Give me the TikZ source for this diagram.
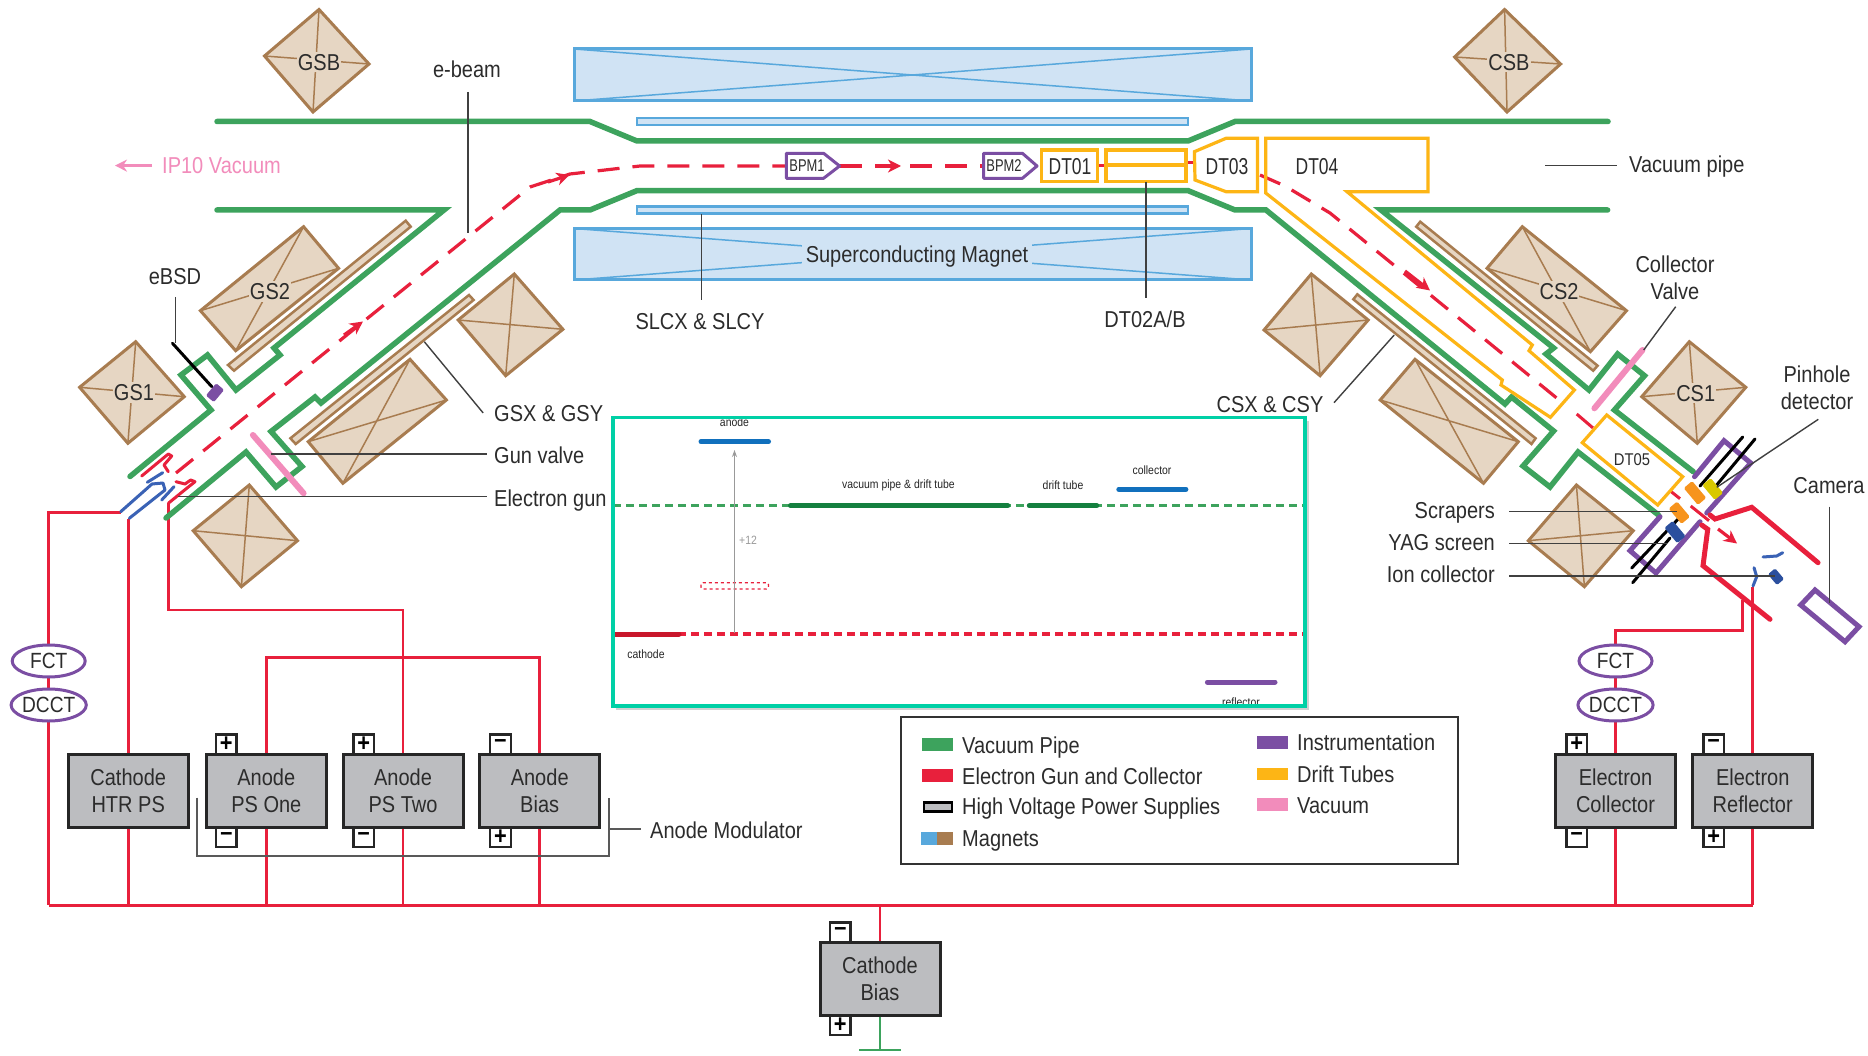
\documentclass[tikz,border=0pt]{standalone}
\usepackage{fontspec}
\setmainfont[FakeStretch=0.87]{Liberation Sans}
\newfontfamily\nf[FakeStretch=0.76]{Liberation Sans}
\usetikzlibrary{arrows.meta,shapes.geometric}
\pgfdeclarelayer{wires}
\pgfsetlayers{wires,main}
\definecolor{pipeg}{HTML}{3DA35D}
\definecolor{redc}{HTML}{E8203C}
\definecolor{purp}{HTML}{7B4EA3}
\definecolor{yel}{HTML}{FDB515}
\definecolor{pinkv}{HTML}{F28CBB}
\definecolor{tanf}{HTML}{E6D6C3}
\definecolor{tanl}{HTML}{A87C50}
\definecolor{bluef}{HTML}{D0E3F4}
\definecolor{bluel}{HTML}{58A8DC}
\definecolor{boxg}{HTML}{BCBDC0}
\definecolor{txt}{HTML}{2C2C2C}
\definecolor{teal1}{HTML}{00D0A6}
\definecolor{gunb}{HTML}{3A62B5}
\definecolor{dgreen}{HTML}{14803F}
\definecolor{iblue}{HTML}{1170BD}
\definecolor{scrap}{HTML}{F7941D}
\definecolor{pinh}{HTML}{D9C800}
\definecolor{yagb}{HTML}{2B4F9E}
\definecolor{cathr}{HTML}{C8162B}
\tikzset{
 pipe/.style={draw=pipeg,line width=5.5pt,line join=miter,line cap=round},
 drift/.style={draw=yel,line width=3.2pt,line join=miter},
 instr/.style={draw=purp,line width=5pt,line join=miter,line cap=round},
 bpmbox/.style={draw=purp,line width=3pt,fill=white,line join=round},
 wire/.style={draw=redc,line width=2.8pt,line join=miter},
 heavy/.style={draw=redc,line width=5pt,line join=miter,line cap=round},
 beam/.style={draw=redc,line width=3.2pt,dash pattern=on 22pt off 13pt},
 tip/.style={draw=redc,line width=3.2pt,-{Stealth[length=13pt,width=13pt,inset=4pt]}},
 mag/.style={draw=tanl,line width=3pt,fill=tanf,line join=miter},
 diag/.style={draw=tanl,line width=1.5pt},
 sol/.style={draw=bluel,line width=3pt,fill=bluef,line join=miter},
 soldiag/.style={draw=bluel,line width=1.5pt},
 lead/.style={draw=black!75,line width=1.4pt},
 rod/.style={draw=black,line width=3pt,line cap=round},
 valve/.style={draw=pinkv,line width=6pt,line cap=round},
 gunpart/.style={draw=gunb,line width=3pt,line join=round,line cap=round},
 gunred/.style={draw=redc,line width=3pt,line join=round,line cap=round},
 lbl/.style={font=\fontsize{23}{27}\selectfont,text=txt,inner sep=0pt,text height=16.5pt,text depth=0pt},
 lblml/.style={font=\fontsize{23}{27}\selectfont,text=txt,inner sep=0pt,align=center},
 maglbl/.style={lbl,fill=tanf,inner xsep=1pt,inner ysep=2pt},
 dtlbl/.style={font=\nf\fontsize{23}{27}\selectfont,text=txt,inner sep=0pt,text height=16.5pt,text depth=0pt},
 dtsmall/.style={font=\fontsize{17}{20}\selectfont,text=txt,inner sep=0pt,text height=12pt,text depth=0pt},
 bpmlbl/.style={font=\nf\fontsize{17}{20}\selectfont,text=txt,inner sep=0pt,text height=12pt,text depth=0pt},
 hvbox/.style={draw=black!85,line width=3pt,fill=boxg,minimum width=120pt,minimum height=73pt,inner sep=0pt,align=center,font=\fontsize{23}{27}\selectfont,text=txt},
 tabbox/.style={draw=black!85,line width=2.2pt,fill=white,minimum width=20.5pt,minimum height=19.5pt,inner sep=0pt,font=\bfseries\fontsize{25}{25}\selectfont},
 meter/.style={ellipse,draw=purp,line width=3pt,fill=white,minimum width=73pt,minimum height=32pt,inner sep=0pt,font=\fontsize{22}{26}\selectfont,text=txt},
 tiny/.style={font=\fontsize{12}{14}\selectfont,text=black!85,inner sep=0pt},
 bar/.style={line width=5pt,line cap=round},
 legendtxt/.style={lbl,anchor=west},
 swatch/.style={minimum width=31pt,minimum height=12.5pt,inner sep=0pt,anchor=west},
 bracket/.style={draw=black!65,line width=1.6pt},
}
\newcommand{\magq}[4]{\draw[mag] #1 -- #2 -- #3 -- #4 -- cycle; \draw[diag] #1 -- #3 #2 -- #4;}
\begin{document}
\begin{tikzpicture}[x=1pt,y=-1pt]
\useasboundingbox (0,0) rectangle (1868,1056);
\begin{pgfonlayer}{wires}
\fill[white] (0,0) rectangle (1868,1056);
\end{pgfonlayer}
% solenoid
\draw[sol] (574,49) rectangle (1251,101);
\draw[soldiag] (574,49) -- (1251,101) (574,101) -- (1251,49);
\draw[sol] (574,228.5) rectangle (1251,280);
\draw[soldiag] (574,228.5) -- (1251,280) (574,280) -- (1251,228.5);
\node[lbl,fill=bluef,inner xsep=4pt,inner ysep=3pt] (scmag) at (917,254) {Superconducting Magnet};
\draw[sol,line width=2.5pt] (637,118) rectangle (1188,125);
\draw[sol,line width=2.5pt] (637,206.5) rectangle (1188,213.5);
% pipes
\draw[pipe] (217,121.5) -- (590,121.5) -- (637,141) -- (1188,141) -- (1235,121.5) -- (1608,121.5);
\draw[pipe] (217,210) -- (444,210) -- (274,348) -- (280,355) -- (236,390) -- (207.5,355) -- (181,375) -- (211,410) -- (130,476.5);
\draw[pipe] (1607.6,210) -- (1381,210) -- (1553.6,348) -- (1546,354) -- (1589,390) -- (1617.6,354) -- (1644.5,375.7) -- (1614.4,410) -- (1693.3,471.7);
\draw[pipe] (166,518) -- (246,452) -- (276,487) -- (302,466.5) -- (271,431.5) -- (315,397) -- (321,403) -- (560,210) -- (590,210) -- (637,190.6) -- (1188,190.6) -- (1235,210) -- (1266,210) -- (1505,404) -- (1511.5,397) -- (1553.6,431) -- (1523,466) -- (1550,487) -- (1578,452) -- (1658.5,515);
% magnets
\magq{(319,9.5)}{(369,64)}{(313,112)}{(264.5,56)}
\magq{(1504.6,9.5)}{(1560.6,64)}{(1507,112)}{(1454.6,57)}
\magq{(303.6,226.7)}{(338.6,268.3)}{(235.7,350.7)}{(200.4,310.7)}
\magq{(135.7,341.7)}{(184.3,396.7)}{(127.9,443.3)}{(79.6,387.3)}
\magq{(514.3,274)}{(562.9,329.3)}{(505.7,375.7)}{(458.2,320)}
\magq{(410,359.3)}{(446.4,400)}{(342.9,483.3)}{(308.2,441.7)}
\magq{(249.3,485)}{(297.5,540.7)}{(241.4,586.7)}{(193.2,530.7)}
\magq{(1522.3,226.7)}{(1626.5,310.7)}{(1590.4,351.7)}{(1487,268.3)}
\magq{(1689.3,341.7)}{(1745.8,387.3)}{(1697.3,443.3)}{(1641.7,396.7)}
\magq{(1311.3,274)}{(1368.2,320)}{(1320.1,375.7)}{(1264,330)}
\magq{(1415,359.3)}{(1518.3,441.7)}{(1483.5,483.3)}{(1380.2,400)}
\magq{(1576.4,485)}{(1633.3,530.7)}{(1584.4,586.7)}{(1528.3,540.7)}
\draw[mag,line width=2.5pt] (405.7,220.7) -- (410.7,226.7) -- (234,370.7) -- (228,365) -- cycle;
\draw[mag,line width=2.5pt] (469,295) -- (473.6,300) -- (295.7,444) -- (290.4,438.3) -- cycle;
\draw[mag,line width=2.5pt] (1420.2,221.7) -- (1597.6,365.7) -- (1593.2,370.7) -- (1416.2,226.7) -- cycle;
\draw[mag,line width=2.5pt] (1357.3,294.3) -- (1535.6,438.3) -- (1531.5,444) -- (1353.3,299.3) -- cycle;
\node[maglbl] (gsb) at (319,62) {GSB};
\node[maglbl] (csb) at (1509,62) {CSB};
\node[maglbl] (gs2) at (270,291.7) {GS2};
\node[maglbl] (gs1) at (134,392.7) {GS1};
\node[maglbl] (cs2) at (1559,291.7) {CS2};
\node[maglbl] (cs1) at (1695.7,393) {CS1};
% beam
\draw[beam] (176,473) -- (530,187) -- (570,174) -- (640,166) -- (790,166);
\draw[beam] (840,166) -- (990,166);
\draw[beam] (1260,175) -- (1285,186) -- (1330,213) -- (1564,404);
\draw[redc,line width=3pt] (1576.7,414) -- (1593,428);
\draw[redc,line width=3pt] (1671,491.5) -- (1680,498.7);
\draw[redc,line width=3pt] (1690.7,506) -- (1709,520.7);
\draw[tip] (344,335) -- (363,321.5);
\draw[tip] (548,182) -- (569.5,175);
\draw[tip] (877,166) -- (901,166);
\draw[tip] (1405,271) -- (1430,290.5);
\draw[tip] (1718,529) -- (1737,543.5);
\draw[redc,line width=3pt] (1097.5,166) -- (1106,166);
\draw[redc,line width=3pt] (1186,163) -- (1195,163);
% drift tubes
\draw[drift] (1265.7,138.3) -- (1428,138.3) -- (1428,191.7) -- (1347,191.7) -- (1532.3,345) -- (1529,350.7) -- (1574.4,390) -- (1550.4,417.3) -- (1501,385) -- (1502.3,380) -- (1265.7,193) -- cycle;
\draw[drift] (1194.4,151.7) -- (1226,138.3) -- (1257.4,138.3) -- (1257.4,191.7) -- (1226,191.7) -- (1195,180) -- cycle;
\draw[drift] (1106,150) rectangle (1186,181.7);
\draw[drift] (1106,165) -- (1186,165);
\draw[drift] (1041.7,150) rectangle (1097.5,181.7);
\draw[drift] (1606.7,415) -- (1682.7,476.7) -- (1657.7,505) -- (1582.3,442.7) -- cycle;
\node[dtlbl] (dt01) at (1070,166) {DT01};
\node[dtlbl] (dt03) at (1227,166) {DT03};
\node[dtlbl] (dt04) at (1317,166) {DT04};
\node[dtsmall] (dt05) at (1632,459) {DT05};
% bpm
\draw[bpmbox] (786.3,153.3) -- (823.6,153.3) -- (839.6,166) -- (823.6,178.3) -- (786.3,178.3) -- cycle;
\draw[bpmbox] (983.6,153.3) -- (1022.4,153.3) -- (1037,166) -- (1022.4,178.3) -- (983.6,178.3) -- cycle;
\node[bpmlbl] (bpm1) at (807,166) {BPM1};
\node[bpmlbl] (bpm2) at (1004,166) {BPM2};
% valves
\draw[valve] (252.9,435) -- (303.6,493.3);
\draw[valve] (1642.5,350) -- (1594.4,408.3);
% instrumentation
\draw[instr] (1694.5,476.7) -- (1724,440.7) -- (1750.7,463) -- (1706.7,513);
\draw[instr] (1660,516.7) -- (1630,550.7) -- (1656,573) -- (1700,521.7);
\draw[instr] (1815,590) -- (1859,626.7) -- (1845,641.7) -- (1800.7,605) -- cycle;
\draw[rod] (1700,486) -- (1742.7,437);
\draw[rod] (1715,487) -- (1755,439);
\draw[rod] (1682,515) -- (1631.7,568);
\draw[rod] (1670,538) -- (1632.7,582.7);
\draw[rod] (172.5,343.3) -- (211.8,386.7);
\fill[purp,rotate around={50:(215,392.7)},rounded corners=1.5pt] (207,387.5) rectangle (223,397.9);
\fill[scrap,rotate around={-50:(1695,493)},rounded corners=1.5pt] (1684,487.5) rectangle (1706,498.5);
\fill[scrap,rotate around={-50:(1679.3,512.7)},rounded corners=1.5pt] (1669.3,507.2) rectangle (1689.3,518.2);
\fill[pinh,rotate around={-50:(1712.7,489)},rounded corners=1.5pt] (1703,483.5) rectangle (1722.4,494.5);
\fill[yagb,rotate around={-50:(1675,532)},rounded corners=1.5pt] (1665,526.5) rectangle (1685,537.5);
\fill[yagb,rotate around={-50:(1776,576.7)},rounded corners=1.5pt] (1769,572) rectangle (1783,581.4);
\draw[gunpart] (1763,557) -- (1776.7,556) -- (1782.7,552.7);
\draw[gunpart] (1754,567.7) -- (1756.7,576.7) -- (1753,586);
% collector
\draw[heavy] (1710,515) -- (1715,519) -- (1751.7,507.3) -- (1818,562.7);
\draw[heavy] (1701.7,525) -- (1707.7,529.3) -- (1703,565.7) -- (1770,619.3);
% gun
\draw[gunred] (141.7,476) -- (168.3,454) -- (171.7,456) -- (164,465) -- (168.3,471.7);
\draw[gunred] (176,481.7) -- (185,484) -- (190.7,480) -- (195,481.7) -- (186.7,488.3) -- (168.3,503.3);
\draw[gunpart] (147.3,482.3) -- (162.7,472.7);
\draw[gunpart] (120.7,511.7) -- (152,484) -- (163,483) -- (165,490) -- (129.3,518.3);
\draw[gunpart] (161.7,500) -- (174,486.7);
% power supplies
\coordinate (busL) at (48.7,905.3);
\coordinate (busR) at (1752.7,905.3);
\coordinate (gunHa) at (120.7,512.7);
\coordinate (gunHb) at (128.2,519);
\coordinate (gunAn) at (168.3,503.3);
\coordinate (colT) at (1742.7,600);
\coordinate (refT) at (1752.7,586.7);
\node[hvbox] (htr) at (128.2,790.6) {Cathode\\HTR PS};
\node[hvbox] (aone) at (266.3,790.6) {Anode\\PS One};
\node[hvbox] (atwo) at (403,790.6) {Anode\\PS Two};
\node[hvbox] (abias) at (539.7,790.6) {Anode\\Bias};
\node[hvbox] (ecol) at (1615.5,790.6) {Electron\\Collector};
\node[hvbox] (eref) at (1752.7,790.6) {Electron\\Reflector};
\node[hvbox] (cbias) at (880,978.6) {Cathode\\Bias};
\begin{pgfonlayer}{wires}
\draw[wire] (busL) -- (busR);
\draw[wire] (gunHa) -- (busL |- gunHa) -- (busL);
\draw[wire] (gunHb) -- (htr.north);
\draw[wire] (gunAn) -- (gunAn |- 0,610) -- (atwo.north |- 0,610) -- (atwo.north);
\draw[wire] (aone.north) -- (aone.north |- 0,657.6) -- (abias.north |- 0,657.6) -- (abias.north);
\draw[wire] (htr.south) -- (htr.south |- busL);
\draw[wire] (aone.south) -- (aone.south |- busL);
\draw[wire] (atwo.south) -- (atwo.south |- busL);
\draw[wire] (abias.south) -- (abias.south |- busL);
\draw[wire] (ecol.south) -- (ecol.south |- busL);
\draw[wire] (eref.south) -- (busR);
\draw[wire] (refT) -- (eref.north);
\draw[wire] (colT) -- (colT |- 0,630.7) -- (ecol.north |- 0,630.7) -- (ecol.north);
\draw[wire] (busL -| cbias.north) -- (cbias.north);
\node[tabbox] (t1) at (226.3,744.2) {+};
\node[tabbox] (t2) at (363.7,744.2) {+};
\node[tabbox] (t3) at (500.5,744.2) {\raisebox{1pt}{–}};
\node[tabbox] (t4) at (226.3,837) {\raisebox{1pt}{–}};
\node[tabbox] (t5) at (363.7,837) {\raisebox{1pt}{–}};
\node[tabbox] (t6) at (500.5,837) {+};
\node[tabbox] (t7) at (1576.7,744.2) {+};
\node[tabbox] (t8) at (1713.7,744.2) {\raisebox{1pt}{–}};
\node[tabbox] (t9) at (1576.7,837) {\raisebox{1pt}{–}};
\node[tabbox] (t10) at (1713.7,837) {+};
\node[tabbox] (t11) at (840.3,932.3) {\raisebox{1pt}{–}};
\node[tabbox] (t12) at (840.3,1025) {+};
\end{pgfonlayer}
\node[meter] (fctl) at (48.7,661) {FCT};
\node[meter] (dcctl) at (48.7,705) {DCCT};
\node[meter] (fctr) at (1615.5,661) {FCT};
\node[meter] (dcctr) at (1615.5,705) {DCCT};
\coordinate (gnd) at (880,1050);
\coordinate (gndL) at (859,1050);
\coordinate (gndR) at (901,1050);
\draw[pipeg,line width=2.8pt] (cbias.south) -- (gnd);
\draw[pipeg,line width=2.8pt] (gndL) -- (gndR);
% leaders + labels
\node[lbl] (lbeam) at (467,69) {e-beam};
\draw[lead] (468,92) -- (468,233);
\node[lbl,text=pinkv,anchor=west] (ip10) at (162,165.6) {IP10 Vacuum};
\draw[pinkv,line width=3.5pt,-{Stealth[length=12pt,width=12pt]}] (152,165.6) -- (115,165.6);
\node[lbl] (lebsd) at (175,276) {eBSD};
\draw[lead] (175.4,297) -- (175.4,343);
\node[lbl,anchor=west] (lgsx) at (494,413) {GSX \& GSY};
\draw[lead] (424.3,341.7) -- (483.2,413);
\node[lbl,anchor=west] (lgv) at (494,455) {Gun valve};
\draw[lead] (270.7,454) -- (486.8,454);
\node[lbl,anchor=west] (leg) at (494,498) {Electron gun};
\draw[lead] (177.9,496.7) -- (486.8,496.7);
\node[lbl,anchor=west] (lvp) at (1629,164) {Vacuum pipe};
\draw[lead] (1545,165.6) -- (1617,165.6);
\node[lbl] (lslc) at (700,321.6) {SLCX \& SLCY};
\draw[lead] (701.7,214) -- (701.7,300);
\node[lbl] (ldt2) at (1145,319) {DT02A/B};
\draw[lead] (1146,181.7) -- (1146,298);
\node[lbl] (lcsx) at (1270,404) {CSX \& CSY};
\draw[lead] (1394.2,335) -- (1334,402.7);
\node[lblml] (lcv) at (1675,277.5) {Collector\\Valve};
\draw[lead] (1675.7,306.7) -- (1643.7,350);
\node[lblml] (lph) at (1817,388) {Pinhole\\detector};
\draw[lead] (1818.3,419.3) -- (1716.7,487.3);
\node[lbl,anchor=east] (lscr) at (1495,510.7) {Scrapers};
\draw[lead] (1509,511.7) -- (1676.5,511.7);
\node[lbl,anchor=east] (lyag) at (1495,542.7) {YAG screen};
\draw[lead] (1509,543.3) -- (1666.5,543.3);
\node[lbl,anchor=east] (lion) at (1495,574) {Ion collector};
\draw[lead] (1509,576) -- (1774.6,576);
\node[lbl] (lcam) at (1829,485) {Camera};
\draw[lead] (1829.3,506.7) -- (1829.3,603);
% anode modulator bracket
\node[lbl,anchor=west] (lam) at (650,830.7) {Anode Modulator};
\draw[bracket] (197,797.7) -- (197,856) -- (609,856) -- (609,797.7);
\draw[bracket] (609,829) -- (641,829);
% inset
\fill[black!18] (615.5,421) rectangle (1308.5,710);
\fill[white] (613,417.3) rectangle (1305,706);
\begin{scope}
\clip (613,417.3) rectangle (1305,706);
\draw[pipeg,line width=3pt,dash pattern=on 8pt off 5pt] (613,505.7) -- (1305,505.7);
\draw[redc,line width=3.2pt,dash pattern=on 8pt off 5pt] (613,634) -- (1305,634);
\draw[dgreen,bar] (790.5,505.7) -- (1007.7,505.7);
\draw[dgreen,bar] (1029.3,505.7) -- (1096.8,505.7);
\draw[iblue,bar] (701,441.7) -- (768.5,441.7);
\draw[iblue,bar] (1118.8,489.3) -- (1185.9,489.3);
\draw[cathr,bar] (613,634) -- (679,634);
\draw[purp,bar] (1207.4,682) -- (1275,682);
\draw[redc,line width=1.4pt,dashed,rounded corners=2pt] (701,582.7) rectangle (768.5,589);
\draw[black!40,line width=1.3pt,-{Stealth[length=7pt,width=5pt]}] (734.5,633) -- (734.5,450);
\node[tiny] (ianode) at (734.5,422) {anode};
\node[tiny] (ivac) at (898.4,485.7) {vacuum pipe \& drift tube};
\node[tiny] (idt) at (1063,485.7) {drift tube};
\node[tiny] (icol) at (1152,470) {collector};
\node[tiny] (icath) at (646,654) {cathode};
\node[tiny] (irefl) at (1241,702.5) {reflector};
\node[tiny,text=black!40] (iplus) at (748,540.7) {+12};
\end{scope}
\draw[teal1,line width=3.5pt] (613,417.3) rectangle (1305,706);
% legend
\draw[black!80,line width=1.8pt] (901,716.7) rectangle (1458,864);
\node[swatch,fill=pipeg] (s1) at (921.3,744.6) {};
\node[swatch,fill=redc] (s2) at (921.3,775.6) {};
\node[swatch,draw=black,line width=2.4pt,fill=boxg,minimum width=28.5pt,minimum height=9pt] (s3) at (922.5,806.8) {};
\fill[bluel] (921.3,832.3) rectangle (937,845);
\fill[tanl] (937,832.3) rectangle (952.7,845);
\node[swatch,fill=purp] (s5) at (1257,742.5) {};
\node[swatch,fill=yel] (s6) at (1257,773.8) {};
\node[swatch,fill=pinkv] (s7) at (1257,804.3) {};
\node[legendtxt] (t1l) at (962,745) {Vacuum Pipe};
\node[legendtxt] (t2l) at (962,776) {Electron Gun and Collector};
\node[legendtxt] (t3l) at (962,806.7) {High Voltage Power Supplies};
\node[legendtxt] (t4l) at (962,838) {Magnets};
\node[legendtxt] (t5l) at (1297,742.7) {Instrumentation};
\node[legendtxt] (t6l) at (1297,774) {Drift Tubes};
\node[legendtxt] (t7l) at (1297,805) {Vacuum};
\end{tikzpicture}
\end{document}
